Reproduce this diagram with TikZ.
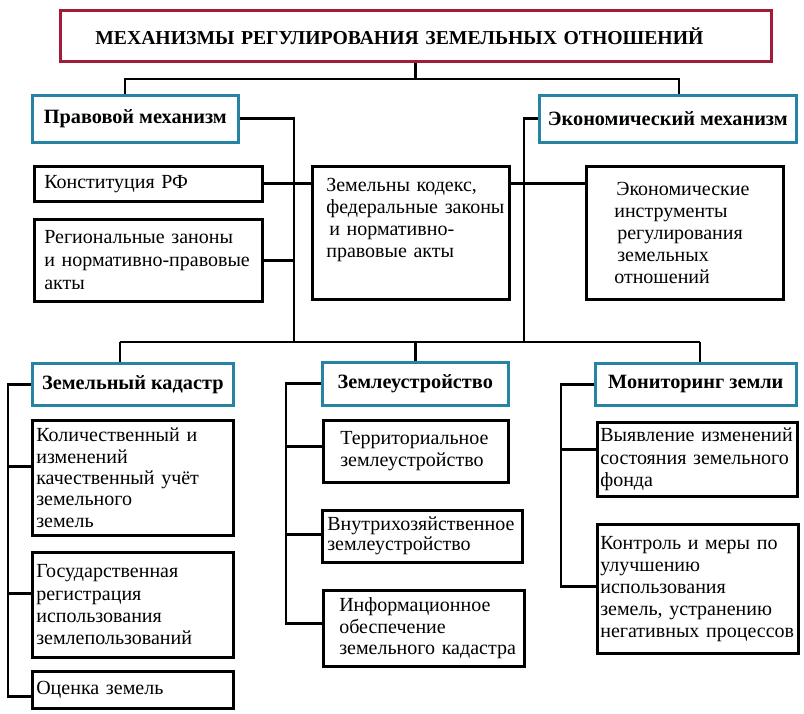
\documentclass[tikz,border=0pt]{standalone}
\usepackage{fontspec}
\setmainfont{Liberation Serif}
\definecolor{titlered}{HTML}{A01C38}
\definecolor{headblue}{HTML}{2683A3}
\tikzset{
  box/.style={draw=black, line width=2.6pt, anchor=north west, align=left,
    inner ysep=0pt, font=\fontsize{20}{23}\selectfont},
  head/.style={draw=headblue, line width=2.6pt, anchor=north west, align=center,
    inner sep=0pt, font=\bfseries\fontsize{20.3}{22}\selectfont},
  wire/.style={line width=2.8pt}
}
\begin{document}
\begin{tikzpicture}[x=1pt,y=-1pt]
\useasboundingbox (0,0) rectangle (804,713);
% title
\node[draw=titlered, line width=2.6pt, anchor=north west, minimum width=711pt,
  minimum height=51pt, text width=641pt, inner xsep=35pt, inner ysep=0pt, align=left,
  font=\bfseries\fontsize{19.7}{22}\selectfont] (title) at (59,9)
  {\mbox{МЕХАНИЗМЫ РЕГУЛИРОВАНИЯ ЗЕМЕЛЬНЫХ ОТНОШЕНИЙ}};
% level 1
\node[head, minimum width=206pt, minimum height=47pt] (prav) at (31,94) {Правовой механизм};
\node[head, minimum width=257pt, minimum height=47pt] (econ) at (538,94) {Экономический механизм};
% level 2
\node[box, minimum width=228pt, minimum height=35pt, text width=208pt, inner xsep=10pt] (const) at (33,165)
  {\mbox{Конституция РФ}};
\node[box, minimum width=228pt, minimum height=82pt, text width=208pt, inner xsep=10pt] (reg) at (33,218)
  {\mbox{Региональные заноны}\\\mbox{и нормативно-правовые}\\акты};
\node[box, minimum width=197pt, minimum height=133pt, text width=169pt, inner xsep=14pt,
  font=\fontsize{20}{22}\selectfont] (mid) at (311,165)
  {\mbox{Земельны кодекс,}\\\mbox{федеральные законы}\\\mbox{\hspace*{3pt}и нормативно-}\\\mbox{правовые акты}\rule[-29pt]{0pt}{29pt}};
\node[box, minimum width=197pt, minimum height=133pt, text width=141pt, inner xsep=28pt,
  font=\fontsize{20}{22}\selectfont] (einst) at (585,165)
  {\hspace*{2pt}Экономические\\инструменты\\\hspace*{3pt}регулирования\\\hspace*{3pt}земельных\\отношений};
% level 3 heads
\node[head, minimum width=201pt, minimum height=42pt] (zk) at (31,362) {Земельный кадастр};
\node[head, minimum width=186pt, minimum height=43pt] (zu) at (321,361) {Землеустройство};
\node[head, minimum width=201pt, minimum height=42pt] (mz) at (594,362) {Мониторинг земли};
% cadastre items
\node[box, minimum width=201pt, minimum height=115pt, text width=193pt, inner xsep=4pt,
  font=\fontsize{20}{21.3}\selectfont] (k1) at (31,419)
  {\mbox{Количественный и}\\изменений\\\mbox{качественный учёт}\\земельного\\земель};
\node[box, minimum width=201pt, minimum height=105pt, text width=193pt, inner xsep=4pt,
  font=\fontsize{20}{22.3}\selectfont] (k2) at (31,551)
  {Государственная\\регистрация\\использования\\землепользований};
\node[box, minimum width=201pt, minimum height=37pt, text width=193pt, inner xsep=4pt] (k3) at (31,670)
  {\mbox{Оценка земель}};
% land management items
\node[box, minimum width=185pt, minimum height=62pt, text width=151pt, inner xsep=17pt,
  font=\fontsize{20}{22}\selectfont] (t) at (322,419)
  {Территориальное\\землеустройство};
\node[box, minimum width=200pt, minimum height=52pt, text width=190pt, inner xsep=5pt,
  font=\fontsize{20}{20}\selectfont] (v) at (321,509)
  {\mbox{Внутрихозяйственное}\\землеустройство};
\node[box, minimum width=201pt, minimum height=76pt, text width=169pt, inner xsep=16pt,
  font=\fontsize{20}{21.5}\selectfont] (i) at (322,589)
  {Информационное\\обеспечение\\\mbox{земельного кадастра}};
% monitoring items
\node[box, minimum width=200pt, minimum height=74pt, text width=194pt, inner xsep=3pt,
  font=\fontsize{20}{22.5}\selectfont] (vy) at (596,421)
  {\mbox{Выявление изменений}\\\mbox{состояния земельного}\\фонда};
\node[box, minimum width=201pt, minimum height=129pt, text width=195pt, inner xsep=3pt,
  font=\fontsize{20}{22}\selectfont] (kk) at (596,523)
  {\mbox{Контроль и меры по}\\улучшению\\использования\\\mbox{земель, устранению}\\\mbox{негативных процессов}};
% junction coordinates
\coordinate (tA) at (125,79);
\coordinate (tB) at (679,79);
\coordinate (lvx) at (294,0);
\coordinate (rvx) at (524,0);
\coordinate (hL) at (120,342);
\coordinate (hR) at (700,342);
\coordinate (s1) at (8,0);
\coordinate (s2) at (286,0);
\coordinate (s3) at (561,0);
% connectors top
\draw[wire] (title.south) -- (title.south |- tA);
\draw[wire] (prav.north -| tA) -- (tA) -- (tB) -- (econ.north -| tB);
\draw[wire] (prav.east) -- (prav.east -| lvx) -- (lvx |- hL);
\draw[wire] (econ.west) -- (econ.west -| rvx) -- (rvx |- hL);
\draw[wire] (const.east) -- (mid.west |- const.east);
\draw[wire] (reg.east) -- (reg.east -| lvx);
\draw[wire] (mid.east |- const.east) -- (einst.west |- const.east);
% lower bus
\draw[wire] (hL) -- (hR);
\draw[wire] (hL) -- (zk.north -| hL);
\draw[wire] (zu.north |- hL) -- (zu.north);
\draw[wire] (hR) -- (mz.north -| hR);
% cadastre spine
\draw[wire] (zk.west) -- (zk.west -| s1) -- ([yshift=-6.5pt]k3.west -| s1) -- ([yshift=-6.5pt]k3.west);
\draw[wire] ([yshift=11.5pt]k1.west -| s1) -- ([yshift=11.5pt]k1.west);
\draw[wire] ([yshift=11.5pt]k2.west -| s1) -- ([yshift=11.5pt]k2.west);
% land management spine
\draw[wire] (zu.west) -- (zu.west -| s2) -- ([yshift=5pt]i.west -| s2) -- ([yshift=5pt]i.west);
\draw[wire] ([yshift=5pt]t.west -| s2) -- ([yshift=5pt]t.west);
\draw[wire] ([yshift=2pt]v.west -| s2) -- ([yshift=2pt]v.west);
% monitoring spine
\draw[wire] (mz.west) -- (mz.west -| s3) -- ([yshift=2.5pt]kk.west -| s3) -- ([yshift=2.5pt]kk.west);
\draw[wire] ([yshift=10pt]vy.west -| s3) -- ([yshift=10pt]vy.west);
\end{tikzpicture}
\end{document}
